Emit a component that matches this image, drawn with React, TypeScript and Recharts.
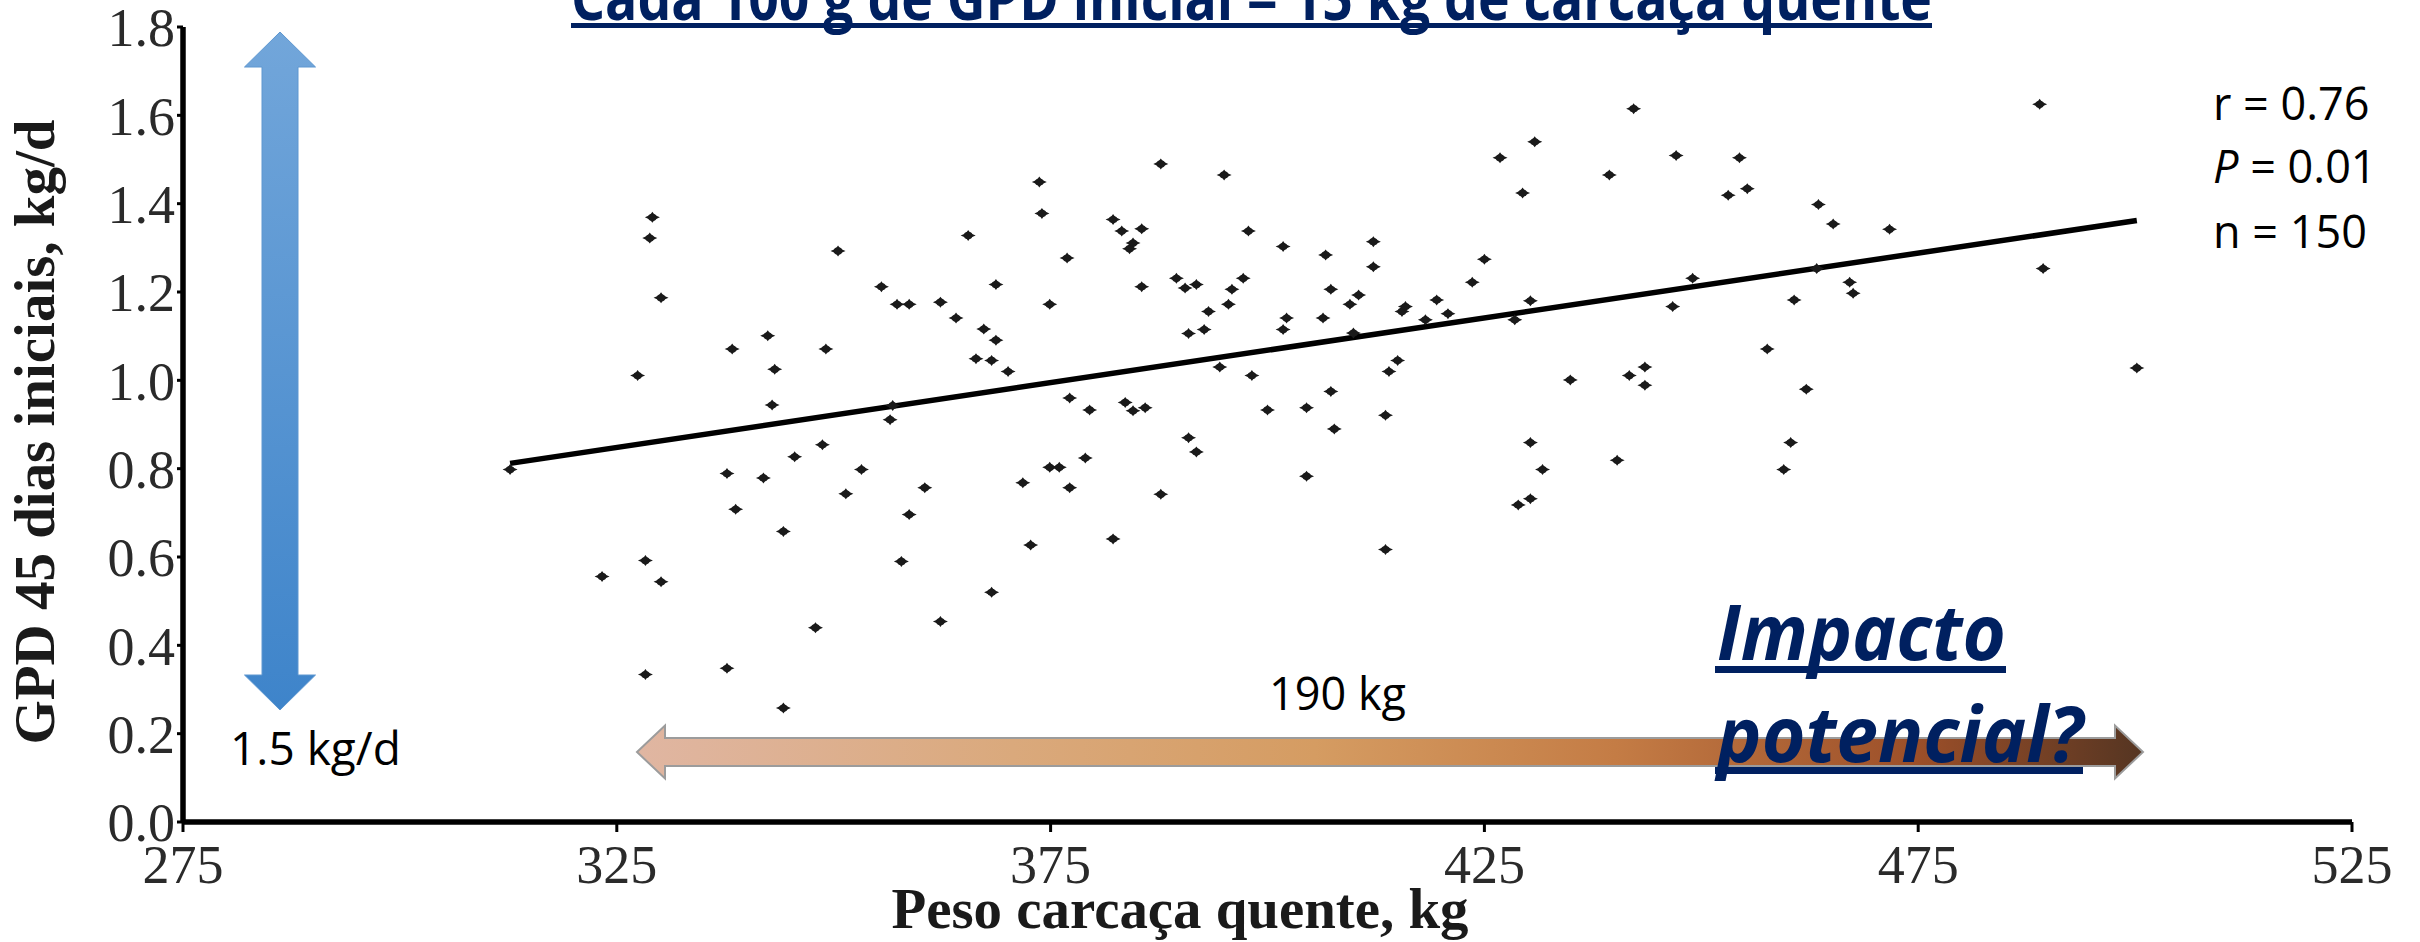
import React from 'react';
import { ScatterChart, Scatter, XAxis, YAxis, ReferenceLine, Label } from 'recharts';

// Peso carcaça quente (kg)
const pesoCarcaca: number[] = [
  329.1, 328.8, 330.1, 350.5, 342.4, 338.3, 349.1, 327.4, 343.2, 342.9, 312.7, 348.7, 345.5, 337.7, 341.9, 351.4, 338.7, 344.2, 328.3, 323.3, 330.1, 347.9, 337.7, 328.3, 344.2,
  387.7, 373.7, 374.0, 365.5, 382.2, 383.2, 385.5, 384.5, 384.1, 376.9, 355.5, 368.7, 385.5, 389.5, 390.5, 391.8, 357.3, 358.7, 362.3, 374.9, 364.1, 367.3, 368.7, 390.9, 366.4, 368.2, 370.1, 356.8, 356.5, 377.2, 379.5, 383.6, 384.5, 385.9, 390.9, 391.8, 353.2, 360.5, 374.9, 376.0, 379.0, 371.8, 377.2, 387.7, 358.7, 372.7, 382.2, 357.8, 368.2, 362.3,
  392.7, 393.2, 395.0, 397.8, 397.2, 395.9, 395.5, 401.8, 402.2, 401.8, 406.7, 407.3, 406.4, 409.5, 410.5, 412.2, 412.2, 409.9, 415.5, 415.9, 418.2, 419.5, 420.8, 423.6, 425.0, 426.8, 430.8, 429.4, 430.3, 428.5, 394.5, 398.2, 400.0, 404.5, 407.3, 407.7, 404.5, 414.0, 415.0, 413.6, 413.6, 430.3, 431.7, 428.9, 430.3,
  442.2, 439.4, 447.1, 454.4, 453.1, 455.3, 463.5, 465.2, 471.7, 449.0, 446.7, 467.1, 467.5, 460.7, 463.3, 457.6, 434.9, 441.7, 443.5, 443.5, 462.1, 460.3, 459.5, 440.3,
  489.0, 489.4, 500.2,
];

// GPD 45 dias iniciais (kg/d)
const gpdInicial: number[] = [
  1.369, 1.322, 1.187, 1.293, 1.101, 1.071, 1.071, 1.011, 1.025, 0.944, 0.798, 0.854, 0.827, 0.789, 0.779, 0.743, 0.708, 0.658, 0.592, 0.556, 0.544, 0.440, 0.348, 0.334, 0.258,
  1.490, 1.449, 1.378, 1.328, 1.364, 1.338, 1.343, 1.311, 1.298, 1.277, 1.212, 1.217, 1.212, 1.231, 1.209, 1.217, 1.172, 1.172, 1.177, 1.172, 1.141, 1.116, 1.091, 1.106, 1.049, 1.045, 1.020, 0.943, 0.911, 0.960, 0.933, 0.950, 0.931, 0.938, 0.870, 0.838, 0.798, 0.757, 0.803, 0.803, 0.824, 0.768, 0.757, 0.742, 0.696, 0.627, 0.641, 0.590, 0.520, 0.454,
  1.115, 1.156, 1.465, 1.338, 1.231, 1.206, 1.172, 1.303, 1.141, 1.115, 1.284, 1.206, 1.141, 1.172, 1.193, 1.314, 1.257, 1.107, 1.156, 1.167, 1.137, 1.182, 1.151, 1.222, 1.274, 1.504, 1.540, 1.424, 1.180, 1.137, 1.030, 1.011, 0.933, 0.938, 0.975, 0.890, 0.783, 1.020, 1.045, 0.921, 0.617, 0.859, 0.798, 0.718, 0.732,
  1.615, 1.465, 1.509, 1.504, 1.419, 1.434, 1.398, 1.354, 1.342, 1.231, 1.167, 1.222, 1.197, 1.182, 1.253, 1.071, 1.001, 1.011, 1.030, 0.989, 0.980, 0.859, 0.798, 0.819,
  1.625, 1.253, 1.028,
];

// Linha de regressão (início e fim)
const trendX: number[] = [312.7, 500.2];
const trendY: number[] = [0.812, 1.362];

const xTicks: number[] = [275, 325, 375, 425, 475, 525];
const yTicks: number[] = [0, 0.2, 0.4, 0.6, 0.8, 1.0, 1.2, 1.4, 1.6, 1.8];

const titleText = 'Cada 100 g de GPD inicial = 15 kg de carcaça quente';
const xLabel = 'Peso carcaça quente, kg';
const yLabel = 'GPD 45 dias iniciais, kg/d';
const statsLines: string[] = ['r = 0.76', 'P = 0.01', 'n = 150'];
const arrowLabelH = '190 kg';
const arrowLabelV = '1.5 kg/d';
const impactLines: string[] = ['Impacto', 'potencial?'];

const points = pesoCarcaca.map((x, i) => ({ x, y: gpdInicial[i] }));

const SERIF = '"Liberation Serif", "DejaVu Serif", serif';
const SANS = '"Open Sans", "Noto Sans", sans-serif';
const NAVY = '#002060';

const Marker = (props: any) => {
  const { cx, cy } = props;
  if (cx == null || cy == null) return null;
  const d = `M${cx - 7.5},${cy} L${cx - 2.3},${cy - 2.3} L${cx},${cy - 5.5} L${cx + 2.3},${cy - 2.3} L${cx + 7.5},${cy} L${cx + 2.3},${cy + 2.3} L${cx},${cy + 5.5} L${cx - 2.3},${cy + 2.3} Z`;
  return (
    <g>
      <path d={d} fill="#1a1a1a" />
      <ellipse cx={cx} cy={cy} rx={4.3} ry={3.6} fill="#1a1a1a" />
    </g>
  );
};

export default function App() {
  return (
    <div style={{ position: 'absolute', left: 0, top: 0, width: 2420, height: 942, background: '#fff', overflow: 'hidden' }}>
      <ScatterChart width={2420} height={942} margin={{ top: 27, right: 68, bottom: 0, left: 0 }}>
        <XAxis
          type="number"
          dataKey="x"
          domain={[275, 525]}
          ticks={xTicks}
          interval={0}
          height={120}
          axisLine={{ stroke: '#000', strokeWidth: 5.5 }}
          tickLine={{ stroke: '#000', strokeWidth: 3 }}
          tickSize={10}
          tickMargin={13}
          tick={{ fill: '#2a2a2a', fontSize: 54, fontFamily: SERIF }}
        >
          <Label
            content={() => (
              <text
                x={1180}
                y={928}
                textAnchor="middle"
                fontFamily={SERIF}
                fontWeight="bold"
                fontSize={56}
                fill="#1a1a1a"
                textLength={577}
                lengthAdjust="spacingAndGlyphs"
              >
                {xLabel}
              </text>
            )}
          />
        </XAxis>
        <YAxis
          type="number"
          dataKey="y"
          domain={[0, 1.8]}
          ticks={yTicks}
          interval={0}
          width={183}
          axisLine={{ stroke: '#000', strokeWidth: 5.5 }}
          tickLine={{ stroke: '#000', strokeWidth: 3 }}
          tickSize={6}
          tickMargin={2}
          tickFormatter={(v: number) => v.toFixed(1)}
          tick={{ fill: '#2a2a2a', fontSize: 54, fontFamily: SERIF }}
        >
          <Label
            content={() => (
              <text
                transform="translate(54,432) rotate(-90)"
                textAnchor="middle"
                fontFamily={SERIF}
                fontWeight="bold"
                fontSize={56}
                fill="#1a1a1a"
                textLength={625}
                lengthAdjust="spacingAndGlyphs"
              >
                {yLabel}
              </text>
            )}
          />
        </YAxis>
        <ReferenceLine
          segment={[
            { x: trendX[0], y: trendY[0] },
            { x: trendX[1], y: trendY[1] },
          ]}
          stroke="#000"
          strokeWidth={5.5}
        />
        <Scatter data={points} shape={Marker} isAnimationActive={false} />
      </ScatterChart>

      <svg width={2420} height={942} style={{ position: 'absolute', left: 0, top: 0, pointerEvents: 'none' }}>
        <defs>
          <linearGradient id="blueGrad" x1="0" y1="0" x2="0" y2="1">
            <stop offset="0%" stopColor="#72A6DA" />
            <stop offset="100%" stopColor="#3E84CA" />
          </linearGradient>
          <linearGradient id="brownGrad" x1="0" y1="0" x2="1" y2="0">
            <stop offset="0%" stopColor="#E0B6A2" />
            <stop offset="25%" stopColor="#DAA97C" />
            <stop offset="45%" stopColor="#D59C62" />
            <stop offset="65%" stopColor="#C47C45" />
            <stop offset="85%" stopColor="#9C4F29" />
            <stop offset="100%" stopColor="#553522" />
          </linearGradient>
        </defs>

        {/* Title (cut at top) */}
        <text x={571} y={20} fontFamily={SANS} fontWeight="bold" fontSize={60} fill={NAVY} textLength={1361} lengthAdjust="spacingAndGlyphs">
          {titleText}
        </text>
        <rect x={571} y={23} width={1361} height={5} fill={NAVY} />

        {/* Vertical blue double arrow */}
        <path
          d="M280,32 L315.5,67 L298,67 L298,675 L315.5,675 L280,710 L244.5,675 L262,675 L262,67 L244.5,67 Z"
          fill="url(#blueGrad)"
          stroke="#5E97D0"
          strokeWidth={1}
        />
        <text x={230} y={765} fontFamily={SANS} fontSize={46} fill="#000">
          {arrowLabelV}
        </text>

        {/* Horizontal brown double arrow */}
        <path
          d="M637,752 L665,725.5 L665,738 L2115,738 L2115,725.5 L2143,752 L2115,778.5 L2115,766 L665,766 L665,778.5 Z"
          fill="url(#brownGrad)"
          stroke="#9C9C9C"
          strokeWidth={2}
        />
        <text x={1269} y={710} fontFamily={SANS} fontSize={45} fill="#000">
          {arrowLabelH}
        </text>

        {/* Stats */}
        <text x={2213} y={120} fontFamily={SANS} fontSize={45} fill="#000">
          {statsLines[0]}
        </text>
        <text x={2213} y={183} fontFamily={SANS} fontSize={45} fill="#000">
          <tspan fontStyle="italic">{statsLines[1].slice(0, 1)}</tspan>
          <tspan>{statsLines[1].slice(1)}</tspan>
        </text>
        <text x={2213} y={248} fontFamily={SANS} fontSize={45} fill="#000">
          {statsLines[2]}
        </text>

        {/* Impacto potencial? */}
        <text x={1717} y={660} fontFamily={SANS} fontWeight="bold" fontStyle="italic" fontSize={77} fill={NAVY} textLength={289} lengthAdjust="spacingAndGlyphs">
          {impactLines[0]}
        </text>
        <rect x={1715} y={666} width={291} height={7} fill={NAVY} />
        <text x={1717} y={762} fontFamily={SANS} fontWeight="bold" fontStyle="italic" fontSize={77} fill={NAVY} textLength={366} lengthAdjust="spacingAndGlyphs">
          {impactLines[1]}
        </text>
        <rect x={1715} y={767} width={368} height={7} fill={NAVY} />
      </svg>
    </div>
  );
}
